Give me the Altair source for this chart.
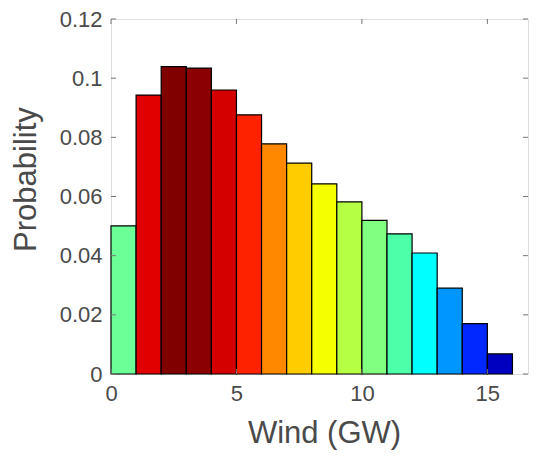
import altair as alt
import pandas as pd

# Histogram bins (GW) and probabilities
bin_start = [0, 1, 2, 3, 4, 5, 6, 7, 8, 9, 10, 11, 12, 13, 14, 15]
bin_end = [1, 2, 3, 4, 5, 6, 7, 8, 9, 10, 11, 12, 13, 14, 15, 16]
probability = [0.0501, 0.0943, 0.1039, 0.1034, 0.0960, 0.0876, 0.0778, 0.0713,
               0.0643, 0.0582, 0.0519, 0.0474, 0.0409, 0.0290, 0.0170, 0.0068]
bar_colors = ["#6cff98", "#e00000", "#800000", "#8b0000", "#d40000", "#ff2200",
              "#ff8800", "#ffcc00", "#f5ff00", "#b5ff45", "#80ff80", "#4cffa8",
              "#00ffff", "#0096ff", "#0028ff", "#0000c0"]
x_ticks = [0, 5, 10, 15]
y_ticks = [0, 0.02, 0.04, 0.06, 0.08, 0.1, 0.12]

W, H = 417, 355
FONT = "Liberation Sans"
TXT = "#4a4a4a"
FRAME = "#777777"

df = pd.DataFrame({"start": bin_start, "end": bin_end, "p": probability,
                   "base": [0] * len(bin_start),
                   "bin": [str(i) for i in range(len(bin_start))]})

xscale = alt.Scale(domain=[0, 16.62], nice=False, zero=False, padding=0)
yscale = alt.Scale(domain=[0, 0.12], nice=False, padding=0)

bars = alt.Chart(df).mark_bar(stroke="black", strokeWidth=1.2, opacity=1).encode(
    x=alt.X("start:Q", scale=xscale,
            axis=alt.Axis(values=x_ticks, title="Wind (GW)", grid=False, domain=False,
                          tickSize=0, labelPadding=9, labelFontSize=22, labelFont=FONT,
                          labelColor=TXT, labelFlush=False, titleFont=FONT,
                          titleFontSize=31, titleFontWeight="normal", titleColor=TXT,
                          titleBaseline="alphabetic", titleY=68, titleX=213)),
    x2="end:Q",
    y=alt.Y("p:Q", scale=yscale,
            axis=alt.Axis(values=y_ticks, format="~g", title="Probability", grid=False,
                          domain=False, tickSize=0, labelPadding=9, labelFontSize=22,
                          labelFont=FONT, labelColor=TXT, labelFlush=False,
                          titleFont=FONT, titleFontSize=31, titleFontWeight="normal",
                          titleColor=TXT, titleBaseline="alphabetic", titleAngle=270,
                          titleX=-76, titleY=160, titleAlign="center")),
    y2="base:Q",
    color=alt.Color("bin:N", scale=alt.Scale(domain=df["bin"].tolist(), range=bar_colors),
                    legend=None),
)

xt = pd.DataFrame({"v": x_ticks})
yt = pd.DataFrame({"v": y_ticks})

top_ticks = alt.Chart(xt).mark_rule(color=FRAME, strokeWidth=1).encode(
    x=alt.X("v:Q", scale=xscale), y=alt.value(0), y2=alt.value(5))
bottom_ticks = alt.Chart(xt).mark_rule(color=FRAME, strokeWidth=1).encode(
    x=alt.X("v:Q", scale=xscale), y=alt.value(H - 5), y2=alt.value(H))
left_ticks = alt.Chart(yt).mark_rule(color=FRAME, strokeWidth=1).encode(
    y=alt.Y("v:Q", scale=yscale), x=alt.value(0), x2=alt.value(5))
right_ticks = alt.Chart(yt).mark_rule(color=FRAME, strokeWidth=1).encode(
    y=alt.Y("v:Q", scale=yscale), x=alt.value(W - 5), x2=alt.value(W))

chart = alt.layer(bars, top_ticks, bottom_ticks, left_ticks, right_ticks).properties(
    width=W, height=H,
    autosize=alt.AutoSizeParams(type="none"),
    padding={"left": 103, "top": 11, "right": 1, "bottom": 76},
).configure_view(stroke=FRAME, strokeWidth=1.2).configure(background="white")

chart.save("out.html", embed_options={"renderer": "svg", "actions": False})
